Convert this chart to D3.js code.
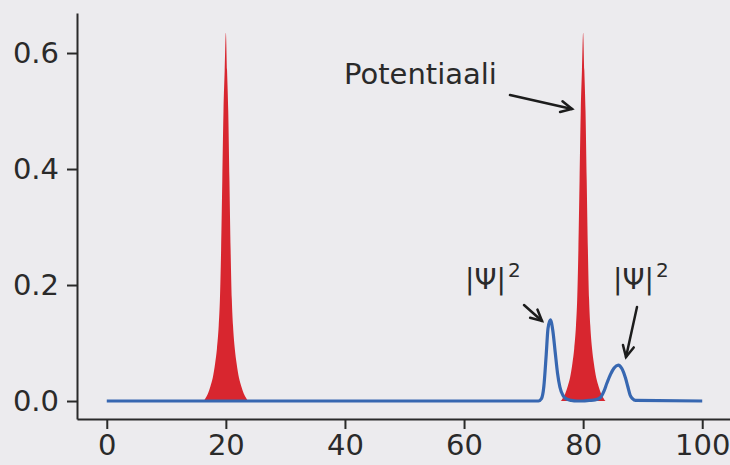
<!DOCTYPE html>
<html>
<head>
<meta charset="utf-8">
<script src="https://cdn.jsdelivr.net/npm/d3@7"></script>
<style>
  html, body { margin: 0; padding: 0; background: #ecebee; }
  svg { display: block; }
  text { font-family: "DejaVu Sans", sans-serif; fill: #2a2a2a; }
</style>
</head>
<body>
<svg id="chart" width="730" height="465"></svg>
<script>
// ---- data ----
const xTicks = [0, 20, 40, 60, 80, 100];
const yTicks = [0.0, 0.2, 0.4, 0.6];
const yTickLabels = ["0.0", "0.2", "0.4", "0.6"];

// potential barriers (red filled peaks at 20 and 80)
const potentialX = [0, 16.2, 16.6, 17.0, 17.4, 17.8, 18.2, 18.5, 18.8, 19.0, 19.2, 19.4, 19.6, 19.8, 20, 20.2, 20.4, 20.6, 20.8, 21.0, 21.2, 21.5, 21.8, 22.2, 22.6, 23.0, 23.4, 23.8,
                    76.2, 76.6, 77.0, 77.4, 77.8, 78.2, 78.5, 78.8, 79.0, 79.2, 79.4, 79.6, 79.8, 80, 80.2, 80.4, 80.6, 80.8, 81.0, 81.2, 81.5, 81.8, 82.2, 82.6, 83.0, 83.4, 83.8, 100];
const potentialV = [0, 0, 0.005, 0.013, 0.025, 0.040, 0.065, 0.090, 0.130, 0.175, 0.260, 0.380, 0.500, 0.570, 0.635, 0.570, 0.500, 0.380, 0.260, 0.175, 0.130, 0.090, 0.065, 0.040, 0.025, 0.013, 0.005, 0,
                    0, 0.005, 0.013, 0.025, 0.040, 0.065, 0.090, 0.130, 0.175, 0.260, 0.380, 0.500, 0.570, 0.635, 0.570, 0.500, 0.380, 0.260, 0.175, 0.130, 0.090, 0.065, 0.040, 0.025, 0.013, 0.005, 0, 0];

// probability density |Psi|^2 (blue line)
const psiX = [0, 72.5, 73.0, 73.4, 73.8, 74.1, 74.5, 74.9, 75.3, 75.7, 76.1, 76.6, 77.1, 78, 79, 80, 81, 82, 82.9, 83.5, 84.0, 84.6, 85.2, 85.9, 86.5, 87.1, 87.5, 87.9, 88.3, 88.8, 100];
const psiY = [0, 0, 0.004, 0.025, 0.080, 0.125, 0.140, 0.122, 0.085, 0.048, 0.024, 0.010, 0.004, 0.001, 0, 0, 0.001, 0.002, 0.006, 0.017, 0.031, 0.046, 0.057, 0.062, 0.056, 0.040, 0.025, 0.010, 0.004, 0.001, 0];

// annotations
const labelPotential = "Potentiaali";
const labelPsi = "|Ψ|";

// ---- drawing ----
const svg = d3.select("#chart");

const x = d3.scaleLinear().domain([-5, 105]).range([77, 732]);
const y = d3.scaleLinear().domain([-0.031, 0.669]).range([419, 13]);

const ink = "#2a2a2a";
const tickFont = 29;

// red filled potential
svg.append("path")
  .datum(potentialX.map((d, i) => [d, potentialV[i]]))
  .attr("fill", "#d8262f")
  .attr("stroke", "none")
  .attr("d", d3.area()
    .x(d => x(d[0]))
    .y0(y(0))
    .y1(d => y(d[1]))
    .curve(d3.curveMonotoneX));

// blue |Psi|^2 line
svg.append("path")
  .datum(psiX.map((d, i) => [d, psiY[i]]))
  .attr("fill", "none")
  .attr("stroke", "#3767b1")
  .attr("stroke-width", 3.2)
  .attr("stroke-linejoin", "round")
  .attr("d", d3.line()
    .x(d => x(d[0]))
    .y(d => y(d[1]))
    .curve(d3.curveMonotoneX));

// axes
const xAxis = d3.axisBottom(x).tickValues(xTicks).tickFormat(d3.format("d")).tickSize(10).tickSizeOuter(0).tickPadding(5);
const gx = svg.append("g").attr("transform", `translate(0,${y.range()[0]})`).call(xAxis);
gx.select(".domain").attr("stroke", ink).attr("stroke-width", 2);
gx.selectAll(".tick line").attr("stroke", ink).attr("stroke-width", 2);
gx.selectAll(".tick text").attr("font-size", tickFont).attr("fill", ink).style("font-family", "DejaVu Sans");

const yAxis = d3.axisLeft(y).tickValues(yTicks).tickFormat((d, i) => yTickLabels[i]).tickSize(10).tickSizeOuter(0).tickPadding(8);
const gy = svg.append("g").attr("transform", `translate(${x.range()[0]},0)`).call(yAxis);
gy.select(".domain").attr("stroke", ink).attr("stroke-width", 2);
gy.selectAll(".tick line").attr("stroke", ink).attr("stroke-width", 2);
gy.selectAll(".tick text").attr("font-size", tickFont).attr("fill", ink).style("font-family", "DejaVu Sans");

// annotation helpers
function arrow(x1, y1, x2, y2) {
  svg.append("line")
    .attr("x1", x1).attr("y1", y1).attr("x2", x2).attr("y2", y2)
    .attr("stroke", "#1c1c1c").attr("stroke-width", 2.5).attr("stroke-linecap", "round");
  const ang = Math.atan2(y2 - y1, x2 - x1);
  const L = 11, Wd = 5.5;
  const bx = x2 - L * Math.cos(ang), by = y2 - L * Math.sin(ang);
  const px = -Math.sin(ang) * Wd, py = Math.cos(ang) * Wd;
  svg.append("path")
    .attr("d", `M${bx + px},${by + py}L${x2},${y2}L${bx - px},${by - py}`)
    .attr("fill", "none").attr("stroke", "#1c1c1c").attr("stroke-width", 2.5)
    .attr("stroke-linejoin", "miter").attr("stroke-linecap", "round");
}

function psiLabel(px, py) {
  const t = svg.append("text").attr("x", px).attr("y", py).attr("font-size", 28);
  t.append("tspan").text(labelPsi);
  t.append("tspan").attr("dx", 2).attr("dy", -12).attr("font-size", 20).text("2");
}

// Potentiaali
svg.append("text").attr("x", 344).attr("y", 84).attr("font-size", 29).text(labelPotential);
arrow(510, 95, 572, 109);

// |Psi|^2 labels
psiLabel(465, 289);
arrow(524, 305, 542, 321);
psiLabel(613, 289);
arrow(637, 307, 626, 357);
</script>
</body>
</html>
